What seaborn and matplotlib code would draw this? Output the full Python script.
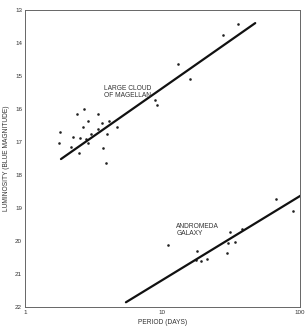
import matplotlib
matplotlib.use("Agg")
import matplotlib.pyplot as plt
import seaborn as sns
import pandas as pd
from matplotlib.ticker import FixedLocator, NullLocator

# Data
lmc_period = [1.81, 1.76, 2.23, 2.16, 2.38, 2.67, 2.65, 2.90, 2.52, 2.46, 2.78, 2.90,
              3.04, 3.41, 3.61, 3.41, 4.10, 3.97, 3.71, 4.69, 3.88, 8.78, 9.07, 13.0,
              16.0, 27.4, 35.4]
lmc_mag = [16.71, 17.04, 16.84, 17.14, 16.15, 15.99, 16.55, 16.37, 16.88, 17.34, 16.92, 17.02,
           16.76, 16.16, 16.42, 16.61, 16.37, 16.75, 17.19, 16.54, 17.63, 15.72, 15.89, 14.63,
           15.09, 13.76, 13.43]
lmc_line_period = [1.83, 47.3]
lmc_line_mag = [17.52, 13.40]

and_period = [11.0, 17.7, 17.5, 19.1, 21.0, 29.3, 29.9, 31.1, 33.8, 37.8, 66.5, 89.0]
and_mag = [20.11, 20.32, 20.58, 20.61, 20.55, 20.37, 20.05, 19.73, 20.03, 19.64, 18.73, 19.08]
and_line_period = [5.43, 101]
and_line_mag = [21.86, 18.63]

y_ticks = [13, 14, 15, 16, 17, 18, 19, 20, 21, 22]
x_ticks = [1, 10, 100]
x_tick_labels = ["1", "10", "100"]

sns.set_style("white")
plt.rcParams['font.family'] = ['Liberation Sans', 'DejaVu Sans']

fig = plt.figure(figsize=(3.07, 3.30), dpi=100)
ax = fig.add_axes([0.081, 0.070, 0.896, 0.900])

pts = pd.DataFrame({"period": lmc_period + and_period,
                    "mag": lmc_mag + and_mag})
sns.scatterplot(data=pts, x="period", y="mag", ax=ax, color="#222222", s=3.5,
                linewidth=0, marker="o")
sns.lineplot(x=lmc_line_period, y=lmc_line_mag, ax=ax, color="#111111", lw=1.6)
sns.lineplot(x=and_line_period, y=and_line_mag, ax=ax, color="#111111", lw=1.6)

ax.set_xscale("log")
ax.set_xlim(1, 100)
ax.set_ylim(22, 13)
ax.xaxis.set_major_locator(FixedLocator(x_ticks))
ax.xaxis.set_minor_locator(NullLocator())
ax.set_xticklabels(x_tick_labels)
ax.set_yticks(y_ticks)
ax.set_yticklabels([str(v) for v in y_ticks])
ax.tick_params(axis="both", direction="in", length=4, width=0.7, labelsize=4.5,
               colors="#333333", pad=2)
ax.tick_params(axis="x", length=3)

for sp in ax.spines.values():
    sp.set_visible(True)
    sp.set_color("#666666")
    sp.set_linewidth(0.7)

ax.set_xlabel("PERIOD (DAYS)", fontsize=4.8, color="#333333", labelpad=3)
ax.set_ylabel("LUMINOSITY (BLUE MAGNITUDE)", fontsize=4.8, color="#333333", labelpad=4)

ax.text(3.75, 15.5, "LARGE CLOUD\nOF MAGELLAN", fontsize=4.8, color="#333333",
        ha="left", va="center", linespacing=1.0)
ax.text(12.6, 19.68, "ANDROMEDA\nGALAXY", fontsize=4.8, color="#333333",
        ha="left", va="center", linespacing=1.0)

fig.savefig("out.png", dpi=100)
